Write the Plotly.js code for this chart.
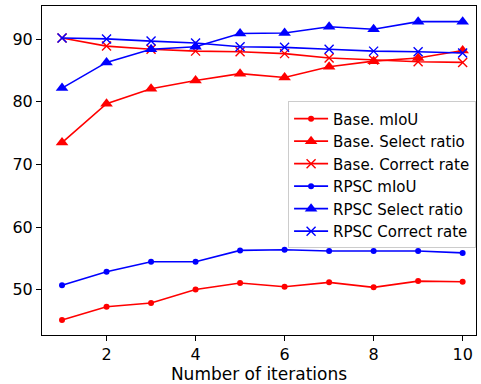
<!DOCTYPE html>
<html><head><meta charset="utf-8">
<script src="https://cdn.plot.ly/plotly-3.0.1.min.js"></script>
<style>body{margin:0;padding:0;background:#fff}</style>
</head><body>
<div id="chart" style="width:481px;height:384px"></div>
<script>
const iterations = [1,2,3,4,5,6,7,8,9,10];
const baseMiou = [45.2,47.3,47.9,50.05,51.1,50.5,51.2,50.4,51.4,51.3];
const baseSelect = [73.5,79.7,82.1,83.4,84.5,83.9,85.6,86.5,87.0,88.2];
const baseCorrect = [90.2,88.9,88.4,88.1,88.0,87.7,87.0,86.7,86.4,86.3];
const rpscMiou = [50.75,52.9,54.5,54.5,56.3,56.4,56.2,56.2,56.2,55.9];
const rpscSelect = [82.2,86.3,88.4,88.8,90.9,91.0,92.0,91.6,92.8,92.8];
const rpscCorrect = [90.2,90.05,89.7,89.4,88.8,88.7,88.4,88.1,88.0,87.8];
const names = ["Base. mIoU","Base. Select ratio","Base. Correct rate","RPSC mIoU","RPSC Select ratio","RPSC Correct rate"];
const xTicks = [2,4,6,8,10];
const yTicks = [50,60,70,80,90];

function tr(y, name, color, symbol, size){
  return {x: iterations, y: y, name: name, type:'scatter', mode:'lines+markers',
    line:{color:color, width:1.6},
    marker:{color:color, symbol:symbol, size:size, line:{color:color, width: symbol==='x-thin'?1.4:0}}};
}
const data = [
  tr(baseMiou, names[0], '#ff0000', 'circle', 6),
  tr(baseSelect, names[1], '#ff0000', 'triangle-up', 11),
  tr(baseCorrect, names[2], '#ff0000', 'x-thin', 9),
  tr(rpscMiou, names[3], '#0000ff', 'circle', 6),
  tr(rpscSelect, names[4], '#0000ff', 'triangle-up', 11),
  tr(rpscCorrect, names[5], '#0000ff', 'x-thin', 9)
];
const layout = {
  width:481, height:384,
  margin:{l:42, r:5, t:6, b:49},
  paper_bgcolor:'#fff', plot_bgcolor:'#fff',
  font:{family:'DejaVu Sans', size:15, color:'#000'},
  showlegend:true,
  legend:{x:0.567, y:0.71, xanchor:'left', yanchor:'top', bgcolor:'rgba(255,255,255,0.8)',
    bordercolor:'#cccccc', borderwidth:1, font:{family:'DejaVu Sans', size:15},
    tracegroupgap:0, itemwidth:34},
  xaxis:{range:[0.55,10.3], tickvals:xTicks, ticks:'outside', ticklen:5, tickcolor:'#000',
    showgrid:false, zeroline:false, showline:true, linecolor:'#000', linewidth:1, mirror:true,
    tickfont:{size:16}, title:{text:'Number of iterations', font:{size:17}, standoff:4}},
  yaxis:{range:[42.8,95.3], tickvals:yTicks, ticks:'outside', ticklen:5, tickcolor:'#000',
    showgrid:false, zeroline:false, showline:true, linecolor:'#000', linewidth:1, mirror:true,
    tickfont:{size:16}}
};
Plotly.newPlot('chart', data, layout, {displayModeBar:false, staticPlot:true});
</script>
</body></html>
